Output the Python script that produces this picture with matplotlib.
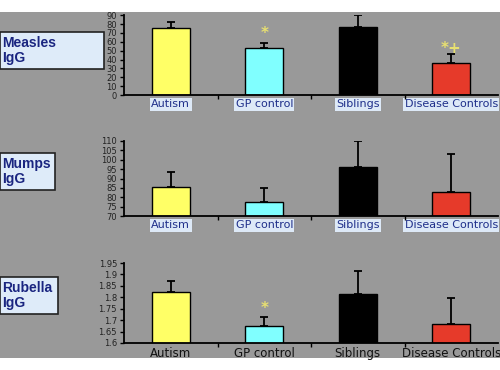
import matplotlib.pyplot as plt
from matplotlib.patches import Rectangle

groups = ["Autism", "GP control", "Siblings", "Disease Controls"]
colors = ["#ffff66", "#80ffff", "#000000", "#e63a2a"]

measles_mean = [75, 53, 76.5, 36]
measles_err = [7, 5.5, 13.5, 10]
mumps_mean = [85.5, 77.5, 96, 82.8]
mumps_err = [8, 7.5, 14, 20.2]
rubella_mean = [1.823, 1.674, 1.814, 1.683]
rubella_err = [0.048, 0.040, 0.101, 0.114]

panels = [
    ("Measles\nIgG", measles_mean, measles_err, (0, 90), list(range(0, 91, 10)),
     [(1, 69, "*"), (3, 53, "*+")], True),
    ("Mumps\nIgG", mumps_mean, mumps_err, (70, 110), list(range(70, 111, 5)), [], True),
    ("Rubella\nIgG", rubella_mean, rubella_err, (1.6, 1.95),
     [1.6, 1.65, 1.7, 1.75, 1.8, 1.85, 1.9, 1.95], [(1, 1.753, "*")], False),
]

# axes rectangles in figure fractions and the title boxes (x0, y0, w, h in px)
ax_rects = [(0.248, 0.743, 0.748, 0.216),
            (0.248, 0.416, 0.748, 0.203),
            (0.248, 0.073, 0.748, 0.216)]
label_boxes = [(0, 32, 104, 37), (0, 153, 55, 37), (0, 277, 58, 37)]

fig = plt.figure(figsize=(5, 3.7), dpi=100, facecolor="white")
bg = fig.add_axes([0, 12 / 370, 1, 346 / 370], zorder=-1)
bg.set_axis_off()
bg.add_patch(Rectangle((0, 0), 1, 1, transform=bg.transAxes, facecolor="#999999",
                       edgecolor="none"))

for (title, mean, err, ylim, yticks, marks, boxed), rect, lb in zip(panels, ax_rects, label_boxes):
    ax = fig.add_axes(rect, zorder=2)
    ax.set_facecolor("none")
    x = range(len(groups))
    ax.bar(x, mean, width=0.41, color=colors, edgecolor="black", linewidth=1, zorder=2)
    ax.errorbar(x, mean, yerr=[[0] * len(err), err], fmt="none", ecolor="black",
                elinewidth=1.3, capsize=3, capthick=1.3, zorder=3)
    ax.set_xlim(-0.5, 3.5)
    ax.set_ylim(*ylim)
    ax.set_yticks(yticks)
    ax.set_yticklabels([("%g" % t) for t in yticks], fontsize=6, color="#222222")
    ax.set_xticks(list(x))
    ax.set_xticks([0.5, 1.5, 2.5], minor=True)
    ax.tick_params(axis="x", which="major", length=0, pad=3)
    ax.tick_params(axis="x", which="minor", length=3, direction="out", width=1)
    ax.tick_params(axis="y", length=3, width=1, pad=2)
    for s in ["top", "right"]:
        ax.spines[s].set_visible(False)
    for s in ["left", "bottom"]:
        ax.spines[s].set_linewidth(1.3)
    if boxed:
        ax.set_xticklabels(groups, fontsize=8, color="#1f2f8a")
        for t in ax.get_xticklabels():
            t.set_bbox(dict(facecolor="#dde9f7", edgecolor="none", pad=1))
    else:
        ax.set_xticklabels(groups, fontsize=8.5, color="#111111")
    for xi, yi, s in marks:
        ax.text(xi, yi, s, ha="center", va="center", fontsize=11, color="#e8e070",
                fontweight="bold")

    bx, by, bw, bh = lb
    bg.add_patch(Rectangle((bx / 500, 1 - (by + bh) / 370), bw / 500, bh / 370,
                           transform=fig.transFigure, facecolor="#deebf9",
                           edgecolor="#222222", linewidth=1.2, zorder=1))
    fig.text((bx + 2) / 500, 1 - (by + bh / 2) / 370, title, ha="left", va="center",
             fontsize=10, fontweight="bold", color="#1a2580", linespacing=1.15,
             family="Liberation Sans", zorder=5)

fig.savefig("out.png", dpi=100, facecolor="white")
